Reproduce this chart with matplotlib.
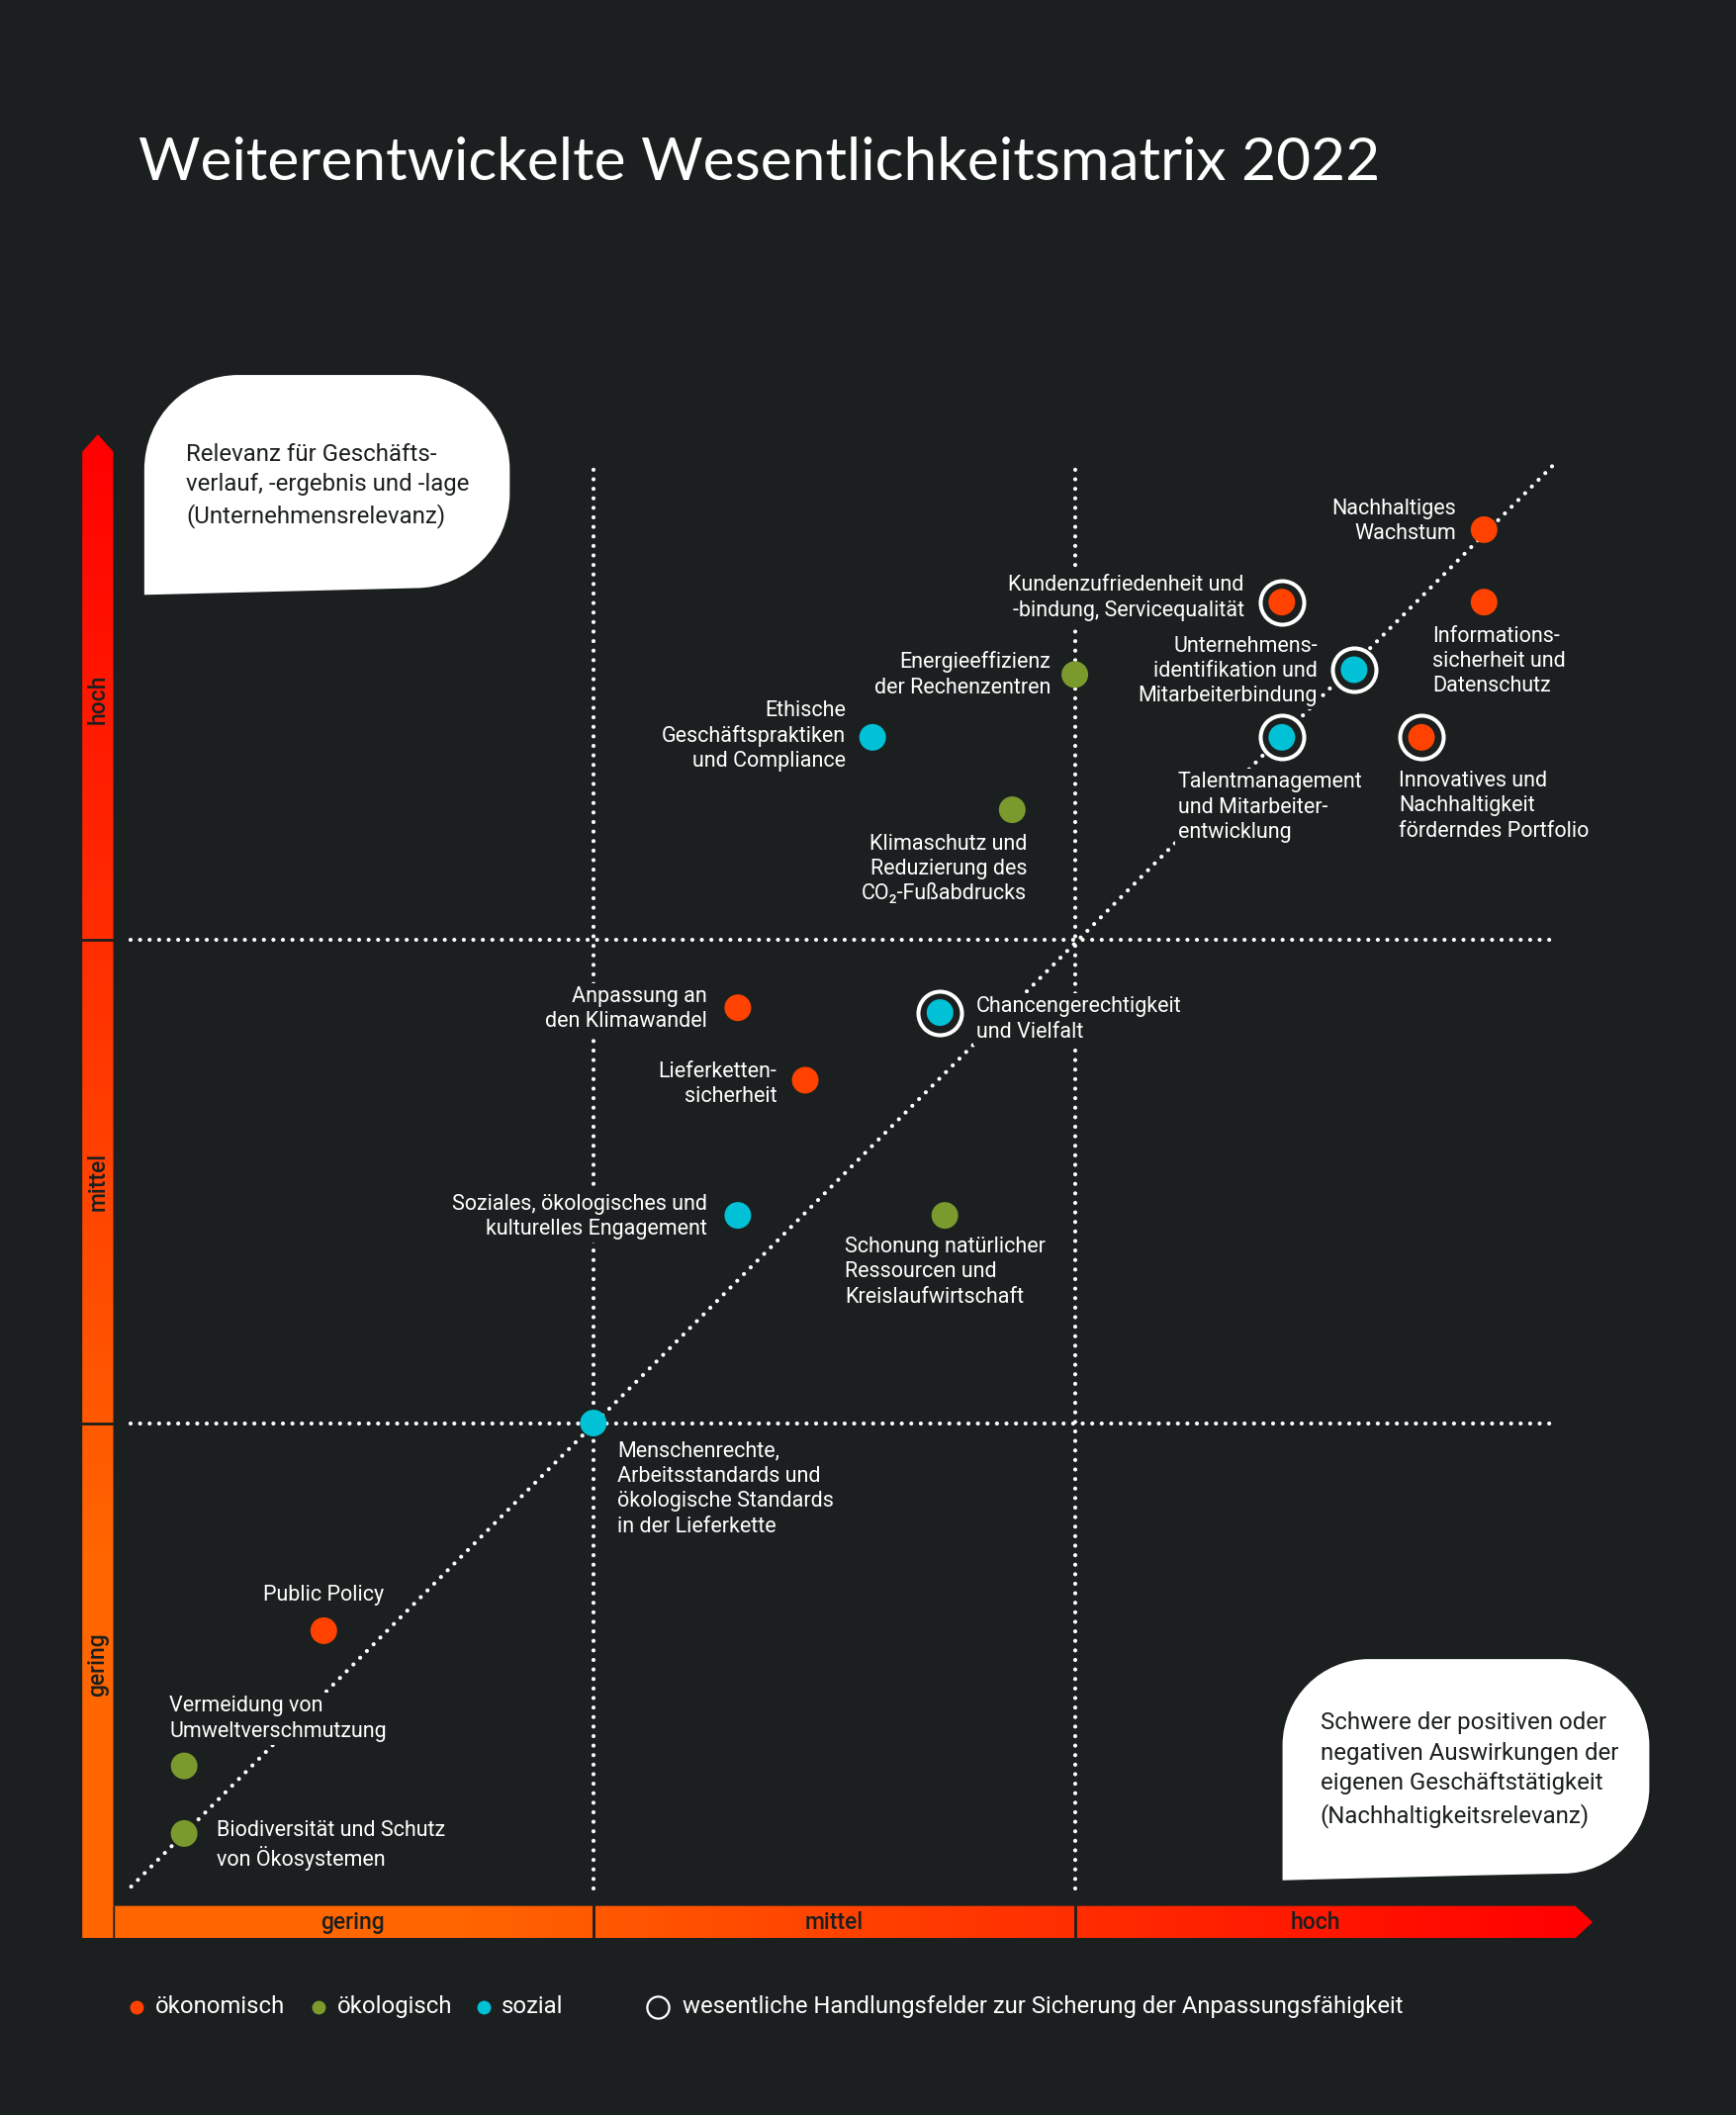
import numpy as np
import matplotlib
matplotlib.use('Agg')
import matplotlib.pyplot as plt
from matplotlib.path import Path
from matplotlib.patches import PathPatch, Polygon

plt.rcParams['font.family'] = ['Roboto', 'DejaVu Sans']

# colours
BG = '#1b1f1f'
FARBE = {'oekonomisch': '#ff4200', 'oekologisch': '#7a9a2e', 'sozial': '#00c1d5'}

# the data: x = Nachhaltigkeitsrelevanz, y = Unternehmensrelevanz (0..3)
themen = [
    'Nachhaltiges\nWachstum',
    'Informations-\nsicherheit und\nDatenschutz',
    'Kundenzufriedenheit und\n-bindung, Servicequalität',
    'Unternehmens-\nidentifikation und\nMitarbeiterbindung',
    'Energieeffizienz\nder Rechenzentren',
    'Ethische\nGeschäftspraktiken\nund Compliance',
    'Talentmanagement\nund Mitarbeiter-\nentwicklung',
    'Innovatives und\nNachhaltigkeit\nförderndes Portfolio',
    'Klimaschutz und\nReduzierung des\nCO\u2082-Fußabdrucks',
    'Anpassung an\nden Klimawandel',
    'Chancengerechtigkeit\nund Vielfalt',
    'Lieferketten-\nsicherheit',
    'Soziales, ökologisches und\nkulturelles Engagement',
    'Schonung natürlicher\nRessourcen und\nKreislaufwirtschaft',
    'Menschenrechte,\nArbeitsstandards und\nökologische Standards\nin der Lieferkette',
    'Public Policy',
    'Vermeidung von\nUmweltverschmutzung',
    'Biodiversität und Schutz\nvon Ökosystemen',
]
nachhaltigkeit = [2.85, 2.85, 2.43, 2.58, 2.00, 1.58, 2.43, 2.72, 1.87,
                  1.30, 1.72, 1.44, 1.30, 1.73, 1.00, 0.44, 0.15, 0.15]
unternehmen = [2.85, 2.70, 2.70, 2.56, 2.55, 2.42, 2.42, 2.42, 2.27,
               1.86, 1.85, 1.71, 1.43, 1.43, 1.00, 0.57, 0.29, 0.15]
kategorie = ['oekonomisch', 'oekonomisch', 'oekonomisch', 'sozial', 'oekologisch',
             'sozial', 'sozial', 'oekonomisch', 'oekologisch', 'oekonomisch',
             'sozial', 'oekonomisch', 'sozial', 'oekologisch', 'sozial',
             'oekonomisch', 'oekologisch', 'oekologisch']
wesentlich = [False, False, True, True, False, False, True, True, False,
              False, True, False, False, False, False, False, False, False]

stufen = ['gering', 'mittel', 'hoch']
grenzen = [1, 2]

# label placement (offset in reference pixels, alignment)
label_pos = [(-21, -6, 'right'), (-38, 44, 'left'), (-28, -3, 'right'),
             (-27, 1, 'right'), (-18, 0, 'right'), (-20, -1, 'right'),
             (-77, 52, 'left'), (-17, 51, 'left'), (11, 44, 'right'),
             (-23, 1, 'right'), (27, 5, 'left'), (-21, 3, 'right'),
             (-23, 1, 'right'), (-74, 42, 'left'), (18, 49, 'left'),
             (0, -26, 'center'), (-11, -35, 'left'), (24, 9, 'left')]

S = 1756 / 1288  # reference px -> output px


def dx(p):
    return (p - 83) / 357


def dy(p):
    return (1413 - p) / 358


fig = plt.figure(figsize=(17.56, 21.38), dpi=100, facecolor=BG)
ax = fig.add_axes([0, 0, 1, 1])
ax.set_facecolor(BG)
ax.axis('off')

# gradient axis bars
def farbe_bei(v):
    g = np.clip(102 * (3.05 - v) / 2.35, 0, 102) / 255
    return np.stack([np.ones_like(v), g, np.zeros_like(v)], axis=-1)

v = np.linspace(dx(84), dx(1182), 400)
img = farbe_bei(v)[np.newaxis, :, :]
im = ax.imshow(img, extent=[dx(84), dx(1182), dy(1437), dy(1413)],
               aspect='auto', interpolation='bilinear', zorder=1)
pfeil_x = Polygon([(dx(84), dy(1413)), (dx(1168), dy(1413)), (dx(1181), dy(1425)),
                   (dx(1168), dy(1437)), (dx(84), dy(1437))], closed=True,
                  transform=ax.transData, fc='none', ec='none')
ax.add_patch(pfeil_x)
im.set_clip_path(pfeil_x)

v = np.linspace(dy(1437), dy(322), 400)
img = farbe_bei(v)[:, np.newaxis, :]
im = ax.imshow(img, extent=[dx(61), dx(84), dy(1437), dy(322)], origin='lower',
               aspect='auto', interpolation='bilinear', zorder=1)
pfeil_y = Polygon([(dx(61), dy(1437)), (dx(61), dy(335)), (dx(72.5), dy(322)),
                   (dx(84), dy(335)), (dx(84), dy(1437))], closed=True,
                  transform=ax.transData, fc='none', ec='none')
ax.add_patch(pfeil_y)
im.set_clip_path(pfeil_y)

for g in grenzen:
    ax.plot([g, g], [dy(1437), dy(1413)], color=BG, lw=2, zorder=2)
    ax.plot([dx(61), dx(84)], [g, g], color=BG, lw=2, zorder=2)
ax.plot([dx(84), dx(84)], [dy(1437), dy(1413)], color=BG, lw=1, zorder=2)

for i, s in enumerate(stufen):
    ax.text(i + 0.5, dy(1425), s, ha='center', va='center', fontsize=16.5,
            fontweight='medium', color=BG, zorder=3)
    ax.text(dx(72.5), i + 0.5, s, ha='center', va='center', fontsize=16.5,
            fontweight='medium', color=BG, rotation=90, zorder=3)

# dotted grid and diagonal
punkt = dict(color='white', lw=3.0, linestyle=(0, (0.01, 2.3)),
             dash_capstyle='round', zorder=2)
for g in grenzen:
    ax.plot([g, g], [0.036, 2.98], **punkt)
    ax.plot([0.039, 2.997], [g, g], **punkt)
ax.plot([0.04, 2.995], [0.04, 2.985], **punkt)

# points
x = np.array(nachhaltigkeit)
y = np.array(unternehmen)
w = np.array(wesentlich)
ax.scatter(x[w], y[w], s=1005, facecolor=BG, edgecolor='white', linewidths=2.9, zorder=5)
ax.scatter(x, y, s=377, c=[FARBE[k] for k in kategorie], linewidths=0, zorder=6)

for xi, yi, t, (ox, oy, ha) in zip(x, y, themen, label_pos):
    ax.annotate(t, (xi, yi), xytext=(ox * S, -oy * S), textcoords='offset pixels',
                ha=ha, va='center', multialignment=ha,
                fontsize=15.5, color='white', linespacing=1.27, zorder=4,
                bbox=dict(boxstyle='square,pad=0.15', fc=BG, ec='none'))

# speech bubbles
def blase(x0, y0, x1, y1, r, tail):
    k = 0.5523 * r
    pts = [(x0, y1 + tail), (x0, y0 + r),
           (x0, y0 + r - k), (x0 + r - k, y0), (x0 + r, y0),
           (x1 - r, y0),
           (x1 - r + k, y0), (x1, y0 + r - k), (x1, y0 + r),
           (x1, y1 - r),
           (x1, y1 - r + k), (x1 - r + k, y1), (x1 - r, y1),
           (x0 + 2 * r, y1 + tail * 0.3), (x0, y1 + tail), (x0, y1 + tail),
           (x0, y1 + tail)]
    codes = [Path.MOVETO, Path.LINETO,
             Path.CURVE4, Path.CURVE4, Path.CURVE4,
             Path.LINETO,
             Path.CURVE4, Path.CURVE4, Path.CURVE4,
             Path.LINETO,
             Path.CURVE4, Path.CURVE4, Path.CURVE4,
             Path.CURVE4, Path.CURVE4, Path.CURVE4,
             Path.CLOSEPOLY]
    verts = [(dx(a), dy(b)) for a, b in pts]
    ax.add_patch(PathPatch(Path(verts, codes), fc='white', ec='none', zorder=3))

blase(107, 278, 378, 436, 70, 5)
ax.text(dx(138), dy(360), 'Relevanz für Geschäfts-\nverlauf, -ergebnis und -lage\n(Unternehmensrelevanz)',
        ha='left', va='center', fontsize=17.3, color=BG, linespacing=1.42, zorder=4)

blase(951, 1230, 1223, 1389, 64, 5)
ax.text(dx(979), dy(1312), 'Schwere der positiven oder\nnegativen Auswirkungen der\neigenen Geschäftstätigkeit\n(Nachhaltigkeitsrelevanz)',
        ha='left', va='center', fontsize=17.3, color=BG, linespacing=1.42, zorder=4)

# title
ax.text(dx(103), dy(121), 'Weiterentwickelte Wesentlichkeitsmatrix 2022',
        ha='left', va='center', fontsize=43.5, color='white',
        family=['Lato', 'DejaVu Sans'])

# legend
leg_y = dy(1488)
for px, tx, k, name in [(101, 115, 'oekonomisch', 'ökonomisch'),
                        (236, 250, 'oekologisch', 'ökologisch'),
                        (359, 372, 'sozial', 'sozial')]:
    ax.plot(dx(px), leg_y, 'o', ms=10, color=FARBE[k], mec='none')
    ax.text(dx(tx), leg_y, name, ha='left', va='center', fontsize=17.2, color='white')
ax.plot(dx(488), leg_y, 'o', ms=16, mfc='none', mec='white', mew=1.6)
ax.text(dx(506), leg_y, 'wesentliche Handlungsfelder zur Sicherung der Anpassungsfähigkeit',
        ha='left', va='center', fontsize=17.2, color='white')

ax.set_xlim(dx(0), dx(1288))
ax.set_ylim(dy(1568), dy(0))

fig.savefig('out.png', dpi=100, facecolor=BG)
